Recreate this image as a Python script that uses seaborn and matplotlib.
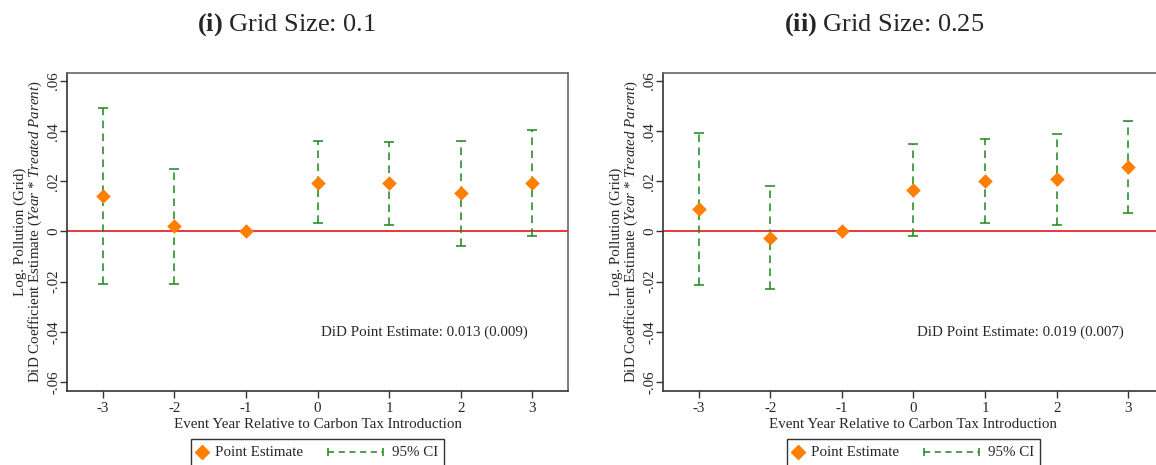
import numpy as np
import pandas as pd
import seaborn as sns
import matplotlib
matplotlib.use("Agg")
import matplotlib.pyplot as plt
from matplotlib.lines import Line2D
from matplotlib.offsetbox import AnchoredOffsetbox, HPacker, TextArea, DrawingArea

# event years
years = [-3, -2, -1, 0, 1, 2, 3]

# panel (i) grid size 0.1
est_01 = [0.0140, 0.0020, 0.0, 0.0195, 0.0192, 0.0152, 0.0193]
lo_01 = [-0.0211, -0.0211, np.nan, 0.0032, 0.0027, -0.0056, -0.0019]
hi_01 = [0.0493, 0.0251, np.nan, 0.0360, 0.0357, 0.0361, 0.0404]

# panel (ii) grid size 0.25
est_025 = [0.0091, -0.0024, 0.0, 0.0167, 0.0200, 0.0208, 0.0257]
lo_025 = [-0.0212, -0.0228, np.nan, -0.0016, 0.0032, 0.0027, 0.0073]
hi_025 = [0.0393, 0.0181, np.nan, 0.0348, 0.0369, 0.0389, 0.0441]

titles = [r"$\mathbf{(i)}$ Grid Size: 0.1", r"$\mathbf{(ii)}$ Grid Size: 0.25"]
did_text = ["DiD Point Estimate: 0.013 (0.009)", "DiD Point Estimate: 0.019 (0.007)"]
yticks = [-0.06, -0.04, -0.02, 0, 0.02, 0.04, 0.06]
yticklabels = ["-.06", "-.04", "-.02", "0", ".02", ".04", ".06"]
legend_labels = ["Point Estimate", "95% CI"]

sns.set_theme(style="ticks")
plt.rcParams['font.family'] = ['Liberation Serif', 'DejaVu Serif']
plt.rcParams['mathtext.fontset'] = 'custom'
plt.rcParams['mathtext.rm'] = 'Liberation Serif'
plt.rcParams['mathtext.it'] = 'Liberation Serif:italic'
plt.rcParams['mathtext.bf'] = 'Liberation Serif:bold'

orange = "#FF7F00"
green = "#1A871A"
fs = 10.8
px = 72 / 100  # one pixel in points

fig = plt.figure(figsize=(11.56, 4.65), dpi=100)
W, H = 1156, 465
# axes boxes in pixels: left, top, width, height
boxes = [(67, 73, 501, 318), (663, 73, 501, 318)]
title_x = [287, 884.5]

panels = [(est_01, lo_01, hi_01), (est_025, lo_025, hi_025)]


def make_legend(ax, xc):
    # diamond symbol
    da1 = DrawingArea(10 * px, 12 * px, 0, 0)
    da1.add_artist(Line2D([5 * px], [6 * px], marker="D", color=orange,
                          markersize=7, linestyle="none"))
    # capped dashed line symbol
    da2 = DrawingArea(57 * px, 12 * px, 0, 0)
    da2.add_artist(Line2D([1 * px, 56 * px], [6 * px, 6 * px], color=green,
                          lw=1.1, linestyle=(0, (4, 3)), marker="|",
                          markersize=6, markeredgewidth=1.1))
    gap = DrawingArea(7 * px, 12 * px, 0, 0)
    t1 = TextArea(legend_labels[0], textprops=dict(fontsize=fs))
    t2 = TextArea(legend_labels[1], textprops=dict(fontsize=fs))
    pack = HPacker(children=[da1, t1, gap, da2, t2], align="center",
                   pad=0, sep=8 * px)
    box = AnchoredOffsetbox(loc="upper center", child=pack, pad=0.45,
                            borderpad=0, frameon=True,
                            bbox_to_anchor=(xc / W, (H - 439) / H),
                            bbox_transform=fig.transFigure, prop=dict(size=fs))
    box.patch.set_boxstyle("square", pad=0)
    box.patch.set_edgecolor("#333333")
    box.patch.set_linewidth(1.0)
    ax.add_artist(box)


for i, ((est, lo, hi), (l, t, w, h)) in enumerate(zip(panels, boxes)):
    ax = fig.add_axes([l / W, (H - t - h) / H, w / W, h / H])
    df = pd.DataFrame({"year": years, "est": est, "lo": lo, "hi": hi})

    ax.axhline(0, color="#E8141C", lw=1.2, zorder=1)

    eb = ax.errorbar(df["year"], df["est"],
                     yerr=[df["est"] - df["lo"], df["hi"] - df["est"]],
                     fmt="none", ecolor=green, elinewidth=1.1, capsize=3.5,
                     capthick=1.1, zorder=2)
    eb[2][0].set_linestyle((0, (5, 3.5)))

    sns.scatterplot(data=df, x="year", y="est", marker="D", s=55,
                    color=orange, edgecolor=orange, linewidth=0, ax=ax, zorder=3)

    ax.set_xlim(-3.5, 3.5)
    ax.set_ylim(-0.0636, 0.0632)
    ax.set_xticks(years)
    ax.set_xticklabels([str(y) for y in years], fontsize=fs)
    ax.set_yticks(yticks)
    ax.set_yticklabels(yticklabels, fontsize=fs, rotation=90, va="center")
    ax.tick_params(axis="both", length=5, width=1, color="#333333")
    ax.tick_params(axis="x", pad=3)
    ax.tick_params(axis="y", pad=0)

    ax.set_xlabel("Event Year Relative to Carbon Tax Introduction", fontsize=fs, labelpad=2)
    ax.set_ylabel("Log. Pollution (Grid)\n"
                  r"DiD Coefficient Estimate ($\mathit{Year}$ $\mathit{*}$ $\mathit{Treated\ Parent}$)",
                  fontsize=fs, labelpad=2, linespacing=1.0)

    for s in ax.spines.values():
        s.set_visible(True)
        s.set_color("#333333")
        s.set_linewidth(1.2)
    ax.spines["top"].set_color("#666666")
    ax.spines["right"].set_color("#666666")

    ax.text(1.5, -0.0403, did_text[i], fontsize=fs, ha="center", va="center")

    fig.text(title_x[i] / W, 1 - 25 / H, titles[i], fontsize=19, ha="center", va="center")

    make_legend(ax, l + w / 2)

fig.savefig("out.png", dpi=100)
